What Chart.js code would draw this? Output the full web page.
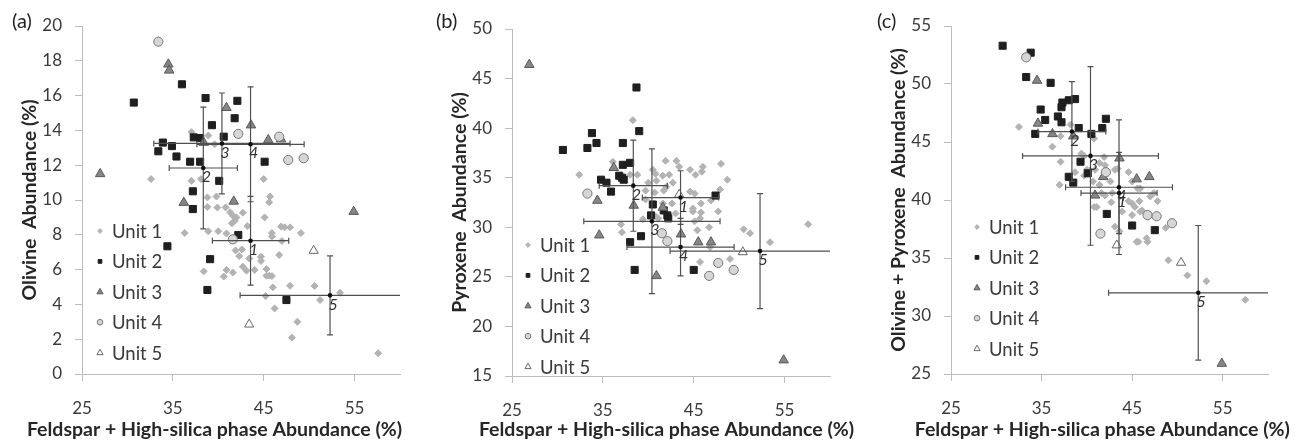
<!DOCTYPE html>
<html>
<head>
<meta charset="utf-8">
<script src="https://cdn.jsdelivr.net/npm/chart.js@4.4.1/dist/chart.umd.min.js"></script>
<style>
  html, body { margin: 0; padding: 0; background: #fff; }
  #wrap { position: relative; width: 1301px; height: 443px; overflow: hidden; }
  .panel { position: absolute; top: 0; }
</style>
</head>
<body>
<div id="wrap">
  <canvas id="chartA" class="panel" style="left:0px" width="430" height="443"></canvas>
  <canvas id="chartB" class="panel" style="left:430px" width="436" height="443"></canvas>
  <canvas id="chartC" class="panel" style="left:869px" width="432" height="443"></canvas>
</div>
<script>
// ---- shared axis / legend values ----
const unitNames = ["Unit 1", "Unit 2", "Unit 3", "Unit 4", "Unit 5"];
const xTicks = [25, 35, 45, 55];
const xTitle = "Feldspar + High-silica phase Abundance (%)";

// mean +/- sd per unit (labels 1..5)
const barIds = ["1", "2", "3", "4", "5"];
const barX = [43.55, 38.35, 40.4, 43.55, 52.3];
const barXErr = [4.2, 3.75, 7.5, 5.9, 9.9];

// ---- (a) olivine ----
const olivineUnit1 = [[32.6,11.2],[37.05,13.9],[38.9,13.7],[39.6,13.2],[37.05,11.1],[38.1,11.2],[39.8,10.2],[38.8,10.15],[38.8,9.6],[36.3,8.1],[38.9,8.2],[40.0,8.2],[38.4,5.9],[39.9,9.57],[40.8,9.57],[41.3,9.3],[41.6,9.1],[42.0,9.0],[42.7,9.27],[41.5,8.66],[41.8,8.8],[43.2,8.5],[45.7,10.2],[45.6,9.87],[45.1,9.0],[46.9,8.47],[47.3,8.43],[47.9,8.43],[45.9,8.1],[45.9,7.9],[49.1,8.1],[47.0,7.64],[40.9,8.08],[41.9,7.1],[42.6,7.16],[42.3,6.78],[43.4,6.64],[44.7,6.74],[44.7,6.5],[46.7,6.84],[42.7,6.17],[43.1,5.94],[44.0,5.98],[45.3,6.03],[45.3,5.65],[45.6,5.65],[45.9,5.63],[40.9,5.98],[41.6,5.83],[40.6,5.6],[46.0,4.98],[47.9,5.07],[50.6,5.06],[45.2,4.48],[51.2,4.25],[53.4,4.67],[46.2,3.77],[48.7,3.0],[48.1,2.09],[57.6,1.19],[45.0,11.2]];
const olivineUnit2 = [[30.7,15.6],[36.0,16.65],[38.6,15.86],[39.3,14.3],[33.9,13.3],[33.4,12.8],[34.9,13.1],[35.4,12.5],[36.9,12.2],[37.3,13.6],[38.0,13.56],[38.0,12.2],[37.2,10.5],[40.1,11.1],[37.2,9.48],[34.4,7.34],[39.1,6.6],[38.8,4.83],[42.2,7.99],[47.5,4.25],[42.1,15.7],[41.8,14.7],[40.6,13.64],[45.1,12.2]];
const olivineUnit3 = [[34.5,17.8],[34.6,17.45],[38.4,13.3],[27.0,11.5],[36.2,9.85],[41.7,9.92],[54.9,9.33],[40.9,15.3],[43.6,14.3],[45.5,13.45],[46.9,13.5]];
const olivineUnit4 = [[33.4,19.1],[42.2,13.8],[46.7,13.64],[47.7,12.3],[49.4,12.4],[41.6,7.74]];
const olivineUnit5 = [[50.5,7.09],[43.4,2.85]];
const olivineBarY = [7.66, 11.84, 13.25, 13.2, 4.52];
const olivineBarYErr = [2.55, 3.5, 2.9, 3.3, 2.27];

// ---- (b) pyroxene ----
const pyroxeneUnit1 = [[38.3,40.8],[32.4,35.3],[36.1,36.6],[38.0,35.3],[38.8,35.3],[40.0,34.5],[39.7,33.7],[39.7,32.8],[41.9,36.7],[43.1,36.7],[43.4,36.1],[44.6,35.8],[46.0,36.1],[48.0,36.4],[48.7,34.8],[45.9,35.6],[45.2,35.3],[40.5,35.8],[40.8,35.4],[41.6,35.2],[42.3,35.3],[42.7,34.5],[40.9,34.7],[40.7,33.5],[41.7,33.7],[42.0,34.1],[42.6,32.4],[44.6,33.6],[45.1,33.4],[45.8,32.4],[46.9,32.7],[47.9,33.8],[47.7,31.6],[45.8,31.5],[44.9,31.9],[43.0,31.4],[41.6,32.4],[40.8,31.1],[39.4,30.8],[41.1,30.9],[45.1,30.6],[45.7,30.9],[45.4,29.7],[46.7,30.0],[50.5,29.8],[51.2,29.4],[53.4,28.5],[57.6,30.3],[46.8,28.0],[45.7,26.5],[49.0,26.8],[44.9,31.6],[37.0,30.3],[37.1,29.5]];
const pyroxeneUnit2 = [[38.7,44.1],[39.0,39.7],[33.8,39.5],[34.3,38.5],[33.3,38.0],[30.6,37.8],[37.2,38.5],[37.2,36.3],[38.0,36.5],[34.8,34.8],[35.4,34.5],[35.9,33.6],[36.8,35.2],[37.1,35.0],[37.3,34.8],[40.5,32.3],[40.3,31.2],[41.7,31.7],[42.1,31.2],[42.2,30.9],[47.4,33.2],[39.2,29.1],[45.0,25.7],[38.0,28.5],[38.5,25.7]];
const pyroxeneUnit3 = [[26.9,46.4],[36.2,36.0],[34.4,32.7],[38.4,32.2],[41.6,32.0],[34.6,29.2],[43.6,29.3],[45.5,28.5],[46.9,28.5],[40.9,25.1],[54.9,16.6]];
const pyroxeneUnit4 = [[33.3,33.4],[41.5,29.4],[42.1,28.6],[47.7,26.4],[49.4,25.7],[46.7,25.1]];
const pyroxeneUnit5 = [[43.4,33.3],[50.4,27.5]];
const pyroxeneBarY = [33.0, 34.2, 30.6, 28.0, 27.6];
const pyroxeneBarYErr = [2.7, 4.6, 7.3, 2.9, 5.8];

// ---- (c) olivine + pyroxene ----
const sumUnit1 = [[32.5,46.3],[36.2,44.6],[37.1,45.5],[38.2,46.5],[37.1,43.3],[39.4,44.0],[39.7,43.8],[38.7,42.4],[39.7,42.1],[37.0,41.3],[40.0,42.6],[40.8,45.3],[41.9,43.7],[41.4,43.2],[42.0,43.0],[43.1,42.6],[43.4,42.7],[44.6,42.4],[40.9,42.6],[40.7,41.6],[41.4,41.3],[42.6,41.6],[45.0,41.6],[45.6,41.0],[45.9,41.0],[41.6,40.6],[42.0,40.4],[42.8,40.6],[42.7,39.8],[44.6,39.9],[45.0,39.7],[45.8,39.9],[45.3,39.4],[46.1,39.1],[43.9,39.0],[47.0,40.3],[47.8,39.9],[47.4,40.6],[40.8,39.4],[41.1,39.4],[43.1,37.7],[43.6,37.3],[45.5,36.4],[45.7,36.4],[46.6,36.7],[46.7,36.4],[45.0,38.7],[45.9,39.0],[48.7,37.6],[49.0,34.8],[51.1,33.5],[53.2,33.0],[57.5,31.4]];
const sumUnit2 = [[30.7,53.3],[33.8,52.7],[33.3,50.6],[36.0,50.1],[34.9,47.8],[35.4,46.9],[34.3,45.7],[36.8,47.2],[37.2,46.7],[37.2,48.0],[37.3,48.4],[38.0,48.6],[38.7,48.7],[39.1,46.2],[39.3,43.3],[38.0,42.0],[38.5,41.5],[40.1,42.3],[42.1,47.0],[41.7,46.2],[40.5,45.7],[42.2,38.8],[45.0,37.8],[47.5,37.4]];
const sumUnit3 = [[34.5,50.3],[34.6,46.6],[36.2,45.7],[38.5,45.5],[43.6,43.6],[41.8,42.0],[45.5,41.8],[46.9,42.0],[40.9,40.4],[54.9,25.9]];
const sumUnit4 = [[33.3,52.3],[42.1,42.4],[46.7,38.7],[47.7,38.6],[49.4,38.0],[41.5,37.1]];
const sumUnit5 = [[43.3,36.1],[50.4,34.6]];
const sumBarY = [40.6, 45.9, 43.8, 41.1, 32.0];
const sumBarYErr = [3.5, 4.3, 7.7, 5.8, 5.8];

// marker look per unit
const unitStyles = [
  { shape: "rectRot", r: 3.5, legendR: 2.4, fill: "#b3b3b3", stroke: "#b3b3b3" },
  { shape: "rect", r: 5, legendR: 2.6, fill: "#1f1f1f", stroke: "#1f1f1f" },
  { shape: "triangle", r: 5.5, legendR: 3.4, fill: "#868686", stroke: "#5a5a5a" },
  { shape: "circle", r: 4.6, legendR: 2.8, fill: "#d6d6d6", stroke: "#777777" },
  { shape: "triangle", r: 5.3, legendR: 3.4, fill: "#ffffff", stroke: "#666666" },
];

Chart.defaults.font.family = "Lato, 'Open Sans', sans-serif";
Chart.defaults.color = "#3a3a3a";

function drawMarker(ctx, st, x, y, r) {
  ctx.save();
  ctx.fillStyle = st.fill;
  ctx.strokeStyle = st.stroke;
  ctx.lineWidth = 1;
  ctx.beginPath();
  if (st.shape === "rectRot") {
    ctx.moveTo(x, y - r); ctx.lineTo(x + r, y); ctx.lineTo(x, y + r); ctx.lineTo(x - r, y);
    ctx.closePath();
  } else if (st.shape === "rect") {
    ctx.rect(x - r * 0.72, y - r * 0.72, r * 1.44, r * 1.44);
  } else if (st.shape === "triangle") {
    ctx.moveTo(x, y - r); ctx.lineTo(x + r * 0.9, y + r * 0.6); ctx.lineTo(x - r * 0.9, y + r * 0.6);
    ctx.closePath();
  } else {
    ctx.arc(x, y, r, 0, Math.PI * 2);
  }
  ctx.fill();
  ctx.stroke();
  ctx.restore();
}

// error bars with caps, the centre dot and the italic unit number
const errorBarPlugin = {
  id: "errorBars",
  afterDatasetsDraw(chart, args, opts) {
    const { ctx, chartArea, scales } = chart;
    const xs = scales.x, ys = scales.y;
    const cap = 3;
    ctx.save();
    ctx.beginPath();
    ctx.rect(chartArea.left, chartArea.top - 10, chartArea.width, chartArea.height + 20);
    ctx.clip();
    ctx.strokeStyle = "#505050";
    ctx.lineWidth = 1.2;
    opts.y.forEach((yv, i) => {
      const cx = xs.getPixelForValue(barX[i]);
      const cy = ys.getPixelForValue(yv);
      const x0 = xs.getPixelForValue(barX[i] - barXErr[i]);
      const x1 = xs.getPixelForValue(barX[i] + barXErr[i]);
      const y0 = ys.getPixelForValue(yv - opts.yErr[i]);
      const y1 = ys.getPixelForValue(yv + opts.yErr[i]);
      ctx.beginPath();
      ctx.moveTo(x0, cy); ctx.lineTo(x1, cy);
      ctx.moveTo(x0, cy - cap); ctx.lineTo(x0, cy + cap);
      ctx.moveTo(x1, cy - cap); ctx.lineTo(x1, cy + cap);
      ctx.moveTo(cx, y0); ctx.lineTo(cx, y1);
      ctx.moveTo(cx - cap, y0); ctx.lineTo(cx + cap, y0);
      ctx.moveTo(cx - cap, y1); ctx.lineTo(cx + cap, y1);
      ctx.stroke();
    });
    ctx.restore();

    ctx.save();
    opts.y.forEach((yv, i) => {
      const cx = xs.getPixelForValue(barX[i]);
      const cy = ys.getPixelForValue(yv);
      ctx.fillStyle = "#111";
      ctx.beginPath();
      ctx.arc(cx, cy, 2.3, 0, Math.PI * 2);
      ctx.fill();
      ctx.fillStyle = "#333";
      ctx.font = "italic 16px Lato, sans-serif";
      ctx.textAlign = "center";
      ctx.textBaseline = "middle";
      ctx.fillText(barIds[i], cx + 3, cy + 9);
    });
    ctx.restore();
  },
};

// in-plot legend, panel letter and the x-axis title (drawn without width squeeze)
const panelDecor = {
  id: "panelDecor",
  afterDraw(chart, args, opts) {
    const { ctx } = chart;
    ctx.save();
    ctx.fillStyle = "#222";
    ctx.font = "20px Lato, sans-serif";
    ctx.textAlign = "left";
    ctx.textBaseline = "middle";
    ctx.fillText(opts.letter, opts.letterX, 22);

    ctx.font = "bold 19.5px Lato, sans-serif";
    ctx.fillStyle = "#262626";
    ctx.textAlign = "center";
    ctx.fillText(xTitle, opts.xTitleX, 430);

    ctx.font = "18.5px Lato, sans-serif";
    ctx.fillStyle = "#3a3a3a";
    ctx.textAlign = "left";
    unitNames.forEach((name, i) => {
      const y = opts.legendY + i * 30.4;
      drawMarker(ctx, unitStyles[i], opts.legendX, y, unitStyles[i].legendR);
      ctx.fillText(name, opts.legendX + 12, y + 1);
    });
    ctx.restore();
  },
};

function makePanel(id, p) {
  const H = 443;
  const datasets = p.units.map((pts, i) => ({
    label: unitNames[i],
    data: pts.map(([x, y]) => ({ x, y })),
    pointStyle: unitStyles[i].shape,
    pointRadius: unitStyles[i].r,
    pointBackgroundColor: unitStyles[i].fill,
    pointBorderColor: unitStyles[i].stroke,
    pointBorderWidth: 1,
    showLine: false,
    order: 5 - i,
  }));

  return new Chart(document.getElementById(id), {
    type: "scatter",
    data: { datasets },
    plugins: [errorBarPlugin, panelDecor],
    options: {
      responsive: false,
      animation: false,
      events: [],
      layout: { padding: { top: p.top, right: p.right, left: 0, bottom: 0 } },
      plugins: {
        legend: { display: false },
        tooltip: { enabled: false },
        errorBars: { y: p.barY, yErr: p.barYErr },
        panelDecor: { letter: p.letter, letterX: p.letterX, legendX: p.legendX, legendY: p.legendY, xTitleX: p.xTitleX },
      },
      scales: {
        x: {
          type: "linear",
          min: 25,
          max: 60,
          afterBuildTicks: (axis) => { axis.ticks = xTicks.map((v) => ({ value: v })); },
          afterFit: (s) => { s.height = H - p.bottom; },
          grid: { drawOnChartArea: false, drawTicks: true, tickLength: 7, color: "#bdbdbd" },
          border: { display: true, color: "#bdbdbd", width: 1 },
          ticks: { font: { size: 17 }, padding: 17, maxRotation: 0 },
          title: { display: false },
        },
        y: {
          type: "linear",
          min: p.yMin,
          max: p.yMax,
          ticks: { stepSize: p.yStep, font: { size: 17 }, padding: 13 },
          afterFit: (s) => { s.width = 82; },
          grid: { drawOnChartArea: false, drawTicks: true, tickLength: 7, color: "#bdbdbd" },
          border: { display: true, color: "#bdbdbd", width: 1 },
          title: {
            display: true,
            text: p.yTitle,
            font: { size: 19.5, weight: "bold" },
            color: "#262626",
            padding: { top: 18, bottom: 0 },
          },
        },
      },
    },
  });
}

makePanel("chartA", {
  units: [olivineUnit1, olivineUnit2, olivineUnit3, olivineUnit4, olivineUnit5],
  barY: olivineBarY, barYErr: olivineBarYErr,
  yMin: 0, yMax: 20, yStep: 2,
  yTitle: "Olivine  Abundance (%)",
  top: 26, right: 30, bottom: 374, xTitleX: 214.5,
  letter: "(a)", letterX: 12, legendX: 100, legendY: 231,
});

makePanel("chartB", {
  units: [pyroxeneUnit1, pyroxeneUnit2, pyroxeneUnit3, pyroxeneUnit4, pyroxeneUnit5],
  barY: pyroxeneBarY, barYErr: pyroxeneBarYErr,
  yMin: 15, yMax: 50, yStep: 5,
  yTitle: "Pyroxene  Abundance (%)",
  top: 29, right: 36, bottom: 376, xTitleX: 236.5,
  letter: "(b)", letterX: 6, legendX: 98, legendY: 245,
});

makePanel("chartC", {
  units: [sumUnit1, sumUnit2, sumUnit3, sumUnit4, sumUnit5],
  barY: sumBarY, barYErr: sumBarYErr,
  yMin: 25, yMax: 55, yStep: 5,
  yTitle: "Olivine + Pyroxene  Abundance (%)",
  top: 26, right: 33, bottom: 374, xTitleX: 233.3,
  letter: "(c)", letterX: 8, legendX: 108, legendY: 227,
});
</script>
</body>
</html>
